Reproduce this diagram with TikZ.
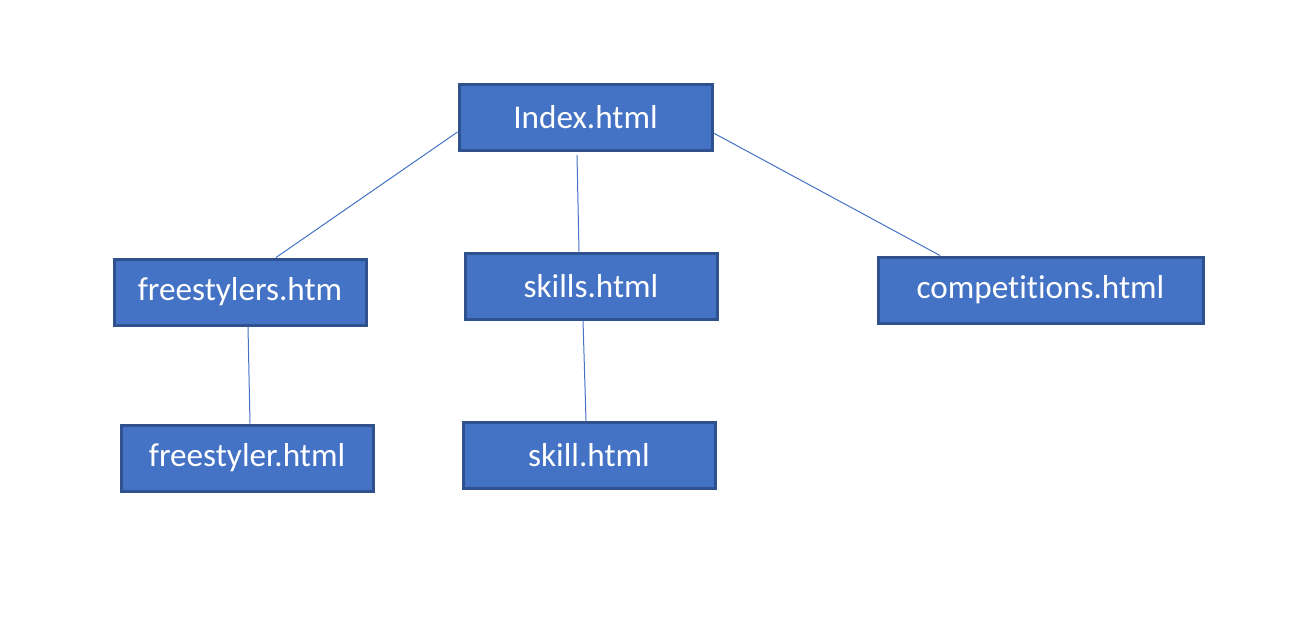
\documentclass[tikz,border=0pt]{standalone}
\usepackage{fontspec}
\setmainfont{Carlito}[Ligatures=NoCommon]
\usetikzlibrary{calc}
\definecolor{boxfill}{HTML}{4472C4}
\definecolor{boxedge}{HTML}{2F528F}
\definecolor{linkcol}{HTML}{4472C4}
\begin{document}
\begin{tikzpicture}[x=1pt,y=-1pt,
  page/.style={draw=boxedge,fill=boxfill,line width=3pt,text=white,
    minimum height=66pt,inner sep=0pt,
    font=\fontsize{33.2}{38}\selectfont},
  link/.style={draw=linkcol,line width=1pt}]
\useasboundingbox (0,0) rectangle (1290,619);
\node[page,minimum width=253pt] (idx) at (585.5,117.5) {Index.html};
\node[page,minimum width=252pt] (fs) at (240,292) {freestylers.htm};
\node[page,minimum width=252pt] (sk) at (591,286) {skills.html};
\node[page,minimum width=325pt] (comp) at (1040.5,290) {competitions.html};
\node[page,minimum width=252pt] (fl) at (247,458) {freestyler.html};
\node[page,minimum width=252pt] (skl) at (589,455) {skill.html};
\draw[link] ($(idx.west)+(0,14.5)$) -- ($(fs.north)+(36,0)$);
\draw[link] ($(idx.south)+(-8.5,3)$) -- ($(sk.north)+(-12,0)$);
\draw[link] ($(idx.east)+(0,15.5)$) -- ($(comp.north)+(-100.5,0)$);
\draw[link] ($(fs.south)+(8,0)$) -- ($(fl.north)+(3,0)$);
\draw[link] ($(sk.south)+(-8,0)$) -- ($(skl.north)+(-3,0)$);
\end{tikzpicture}
\end{document}
